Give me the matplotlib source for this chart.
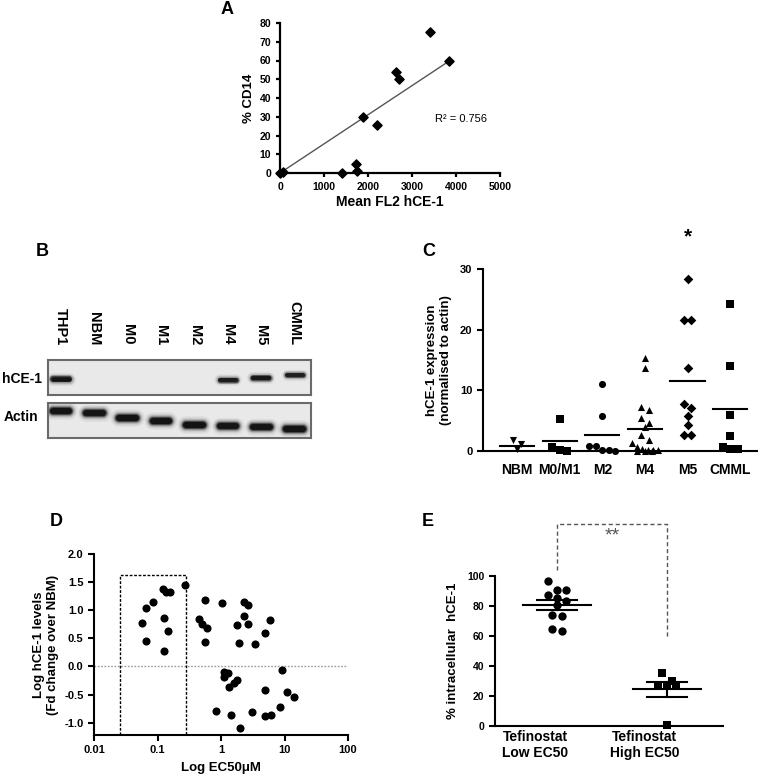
import numpy as np
import matplotlib
matplotlib.use("Agg")
import matplotlib.pyplot as plt
from matplotlib.patches import Rectangle
from matplotlib.transforms import ScaledTranslation

plt.rcParams['font.family'] = ['Liberation Sans', 'DejaVu Sans']
plt.rcParams['font.weight'] = 'bold'

# ---------------- data ----------------
# Panel A
a_fl2 = [10, 60, 1420, 1720, 1750, 1880, 2200, 2630, 2700, 3420, 3850]
a_cd14 = [0, 0.5, 0, 5, 1, 30, 25.5, 54, 50, 75, 60]
a_r2_text = "R\u00b2 = 0.756"

# Panel B (western blot): band intensity and migration depth within each strip
b_lanes = ['THP1', 'NBM', 'M0', 'M1', 'M2', 'M4', 'M5', 'CMML']
b_hce1_signal = [1.0, 0, 0, 0, 0, 0.75, 0.85, 0.7]
b_hce1_depth = [19, 19, 19, 19, 19, 20, 17.5, 15.5]
b_actin_signal = [1.0, 0.95, 1.0, 1.0, 1.0, 0.95, 0.95, 1.0]
b_actin_depth = [8, 10, 15, 18, 22, 23, 24, 26]

# Panel C
c_groups = ['NBM', 'M0/M1', 'M2', 'M4', 'M5', 'CMML']
c_nbm = [1.8, 1.15, 0.4]
c_m0m1 = [5.35, 0.7, 0.0, 0.2]
c_m2 = [11.1, 5.7, 0.8, 0.8, 0.2, 0.0, 0.2]
c_m4 = [15.4, 13.6, 7.3, 6.7, 5.5, 4.6, 4.0, 2.7, 1.8, 1.3, 0.7, 0.4,
        0.2, 0.2, 0.1, 0.0, 0.0, 0.0]
c_m5 = [28.3, 21.6, 21.6, 13.7, 7.8, 7.1, 5.7, 4.3, 2.7, 2.7]
c_cmml = [24.3, 14.0, 6.0, 2.4, 0.7, 0.3, 0.3]
c_means = [0.9, 1.65, 2.7, 3.6, 11.6, 7.0]
c_markers = ['v', 's', 'o', '^', 'D', 's']
c_star_group = 'M5'
c_star_y = 35.3

# Panel D
d_ec50 = [0.058, 0.067, 0.067, 0.086, 0.124, 0.138, 0.158, 0.126, 0.147, 0.126,
          0.271, 0.57, 1.05, 0.449, 0.505, 0.60, 0.57, 2.32, 2.71, 2.32,
          1.76, 2.63, 1.89, 3.44, 5.98, 4.94, 9.3, 1.10, 1.29, 1.10,
          1.78, 1.62, 1.32, 4.94, 11.1, 14.2, 0.836, 1.43, 3.05, 4.94,
          6.13, 8.36, 2.01]
d_loghce = [0.776, 0.45, 1.045, 1.146, 1.373, 1.33, 1.325, 0.854, 0.633, 0.28,
            1.445, 1.188, 1.128, 0.848, 0.746, 0.675, 0.436, 1.146, 1.10, 0.89,
            0.74, 0.746, 0.418, 0.406, 0.818, 0.59, -0.066, -0.10, -0.12, -0.18,
            -0.24, -0.30, -0.36, -0.42, -0.45, -0.537, -0.788, -0.86, -0.818, -0.878,
            -0.86, -0.716, -1.10]
d_box_ec50 = [0.0257, 0.282]
d_box_top = 1.625

# Panel E
e_groups = ['Tefinostat\nLow EC50', 'Tefinostat\nHigh EC50']
e_low = [96.7, 90.9, 90.9, 85.6, 87.1, 83.3, 80.4, 73.8, 73.1, 64.9, 63.1]
e_high = [30, 35.3, 27.1, 27.1, 27.1, 0.4]
e_bracket = [103.8, 135, 59.3]
e_sig = '**'
e_sig_y = 127

# ---------------- helpers ----------------
W, H = 758, 778
fig = plt.figure(figsize=(W / 100, H / 100), dpi=100)


def px_axes(l, t, r, b):
    return fig.add_axes([l / W, 1 - b / H, (r - l) / W, (b - t) / H])


def prism_style(ax, lw=1.5):
    for s in ['top', 'right']:
        ax.spines[s].set_visible(False)
    for s in ['left', 'bottom']:
        ax.spines[s].set_linewidth(lw)
    ax.tick_params(direction='out', width=lw, length=4)


def swarm_offsets(vals, px_per_y, px_per_x, d_px, max_w_px):
    """Row-binned symmetric spread of points (Prism-like scatter)."""
    vals = np.asarray(vals, float)
    order = np.argsort(-vals)
    offs = np.zeros(len(vals))
    groups = []
    cur = [order[0]]
    for idx in order[1:]:
        if (vals[cur[0]] - vals[idx]) * px_per_y < d_px:
            cur.append(idx)
        else:
            groups.append(cur)
            cur = [idx]
    groups.append(cur)
    for g in groups:
        n = len(g)
        if n == 1:
            continue
        step = min(d_px, max_w_px / (n - 1))
        for k, idx in enumerate(g):
            offs[idx] = (k - (n - 1) / 2) * step / px_per_x
    return offs


# ---------------- Panel A ----------------
axA = px_axes(280, 23, 500, 173)
prism_style(axA, 1.6)
axA.tick_params(length=3)
axA.scatter(a_fl2, a_cd14, marker='D', s=22, color='black', zorder=3, clip_on=False)
ax_x = np.asarray(a_fl2, float)
ax_y = np.asarray(a_cd14, float)
slope = np.sum(ax_x * ax_y) / np.sum(ax_x ** 2)
fit_x = np.array([0, ax_x.max() - 60])
axA.plot(fit_x, slope * fit_x, color='#555555', lw=1.0, zorder=2)
axA.set_xlim(0, 5000)
axA.set_ylim(0, 80)
axA.set_xticks(range(0, 5001, 1000))
axA.set_yticks(range(0, 81, 10))
for lab in axA.get_xticklabels() + axA.get_yticklabels():
    lab.set_fontsize(7.5)
    lab.set_fontweight('bold')
axA.set_xlabel('Mean FL2 hCE-1', fontsize=10, fontweight='bold', labelpad=2)
axA.set_ylabel('% CD14', fontsize=9.5, fontweight='bold', labelpad=3)
axA.text(3520, 29, a_r2_text, fontsize=8, fontweight='normal', va='center')
fig.text(227 / W, 1 - 10 / H, 'A', fontsize=13, fontweight='bold', ha='center', va='center')

# ---------------- Panel B ----------------
fig.text(42 / W, 1 - 251 / H, 'B', fontsize=13, fontweight='bold', ha='center', va='center')
xlim_b = (-0.39, 7.49)


def blot_axes(t, b, signal, depth, thick_px, half_w):
    ax = px_axes(48, t, 311, b)
    ax.set_xlim(*xlim_b)
    ax.set_ylim(35, 0)
    ax.set_facecolor('#e9e9e9')
    for s in ax.spines.values():
        s.set_color('#6a6a6a')
        s.set_linewidth(1.5)
    ax.set_xticks([])
    ax.set_yticks([])
    layers = [(2.2, 0.05), (1.8, 0.08), (1.5, 0.14), (1.25, 0.25), (1.0, 0.55), (0.75, 0.95)]
    for i, (sig, pos) in enumerate(zip(signal, depth)):
        if sig <= 0:
            continue
        th = thick_px * (0.55 + 0.45 * sig)
        for wf, al in layers:
            ax.plot([i - half_w, i + half_w], [pos, pos], color='#111111',
                    lw=th * wf * 0.72, alpha=min(1, al * (0.5 + 0.5 * sig)),
                    solid_capstyle='round')
    return ax


axB1 = blot_axes(360, 395, b_hce1_signal, b_hce1_depth, 6.0, 0.24)
axB2 = blot_axes(403, 438, b_actin_signal, b_actin_depth, 8.0, 0.25)
for i, lane in enumerate(b_lanes):
    axB1.text(i, -15, lane, rotation=270, ha='center', va='bottom',
              fontsize=10.5, fontweight='bold', clip_on=False)
fig.text(22 / W, 1 - 379 / H, 'hCE-1', fontsize=10, fontweight='bold', ha='center', va='center')
fig.text(21 / W, 1 - 417 / H, 'Actin', fontsize=10, fontweight='bold', ha='center', va='center')

# ---------------- Panel C ----------------
axC = px_axes(483, 269, 757, 451)
prism_style(axC)
c_data = [c_nbm, c_m0m1, c_m2, c_m4, c_m5, c_cmml]
px_y_c = 182 / 30
px_x_c = 42.6
for i, (vals, mk, mu) in enumerate(zip(c_data, c_markers, c_means)):
    offs = swarm_offsets(vals, px_y_c, px_x_c, 7.5, 26)
    axC.scatter(i + offs, vals, marker=mk, s=26 if mk != 'D' else 24,
                color='black', zorder=3, clip_on=False, linewidths=0)
    axC.plot([i - 0.4, i + 0.4], [mu, mu], color='black', lw=1.5, zorder=2)
axC.set_xlim(-0.8, 5.63)
axC.set_ylim(0, 30)
axC.set_yticks([0, 10, 20, 30])
axC.set_xticks(range(len(c_groups)))
axC.set_xticklabels(c_groups)
axC.tick_params(axis='x', length=0, pad=9)
for lab in axC.get_xticklabels():
    lab.set_fontsize(10)
    lab.set_fontweight('bold')
for lab in axC.get_yticklabels():
    lab.set_fontsize(8)
    lab.set_fontweight('bold')
axC.set_ylabel('hCE-1 expression\n(normalised to actin)', fontsize=9.5,
               fontweight='bold', labelpad=6)
axC.text(c_groups.index(c_star_group), c_star_y, '*', fontsize=15, ha='center',
         va='center', clip_on=False)
fig.text(429 / W, 1 - 252 / H, 'C', fontsize=13, fontweight='bold', ha='center', va='center')

# ---------------- Panel D ----------------
axD = px_axes(94, 554, 348, 735)
prism_style(axD)
axD.set_xscale('log')
axD.scatter(d_ec50, d_loghce, s=34, color='black', zorder=3, linewidths=0, clip_on=False)
axD.axhline(0, color='#999999', lw=1.0, ls=(0, (1.2, 1.2)), zorder=1)
axD.add_patch(Rectangle((d_box_ec50[0], -1.22), d_box_ec50[1] - d_box_ec50[0],
                        d_box_top + 1.22, fill=False, ec='black', lw=1.0,
                        ls=(0, (2, 1.2)), zorder=2))
axD.set_xlim(0.01, 100)
axD.set_ylim(-1.22, 2.0)
axD.set_xticks([0.01, 0.1, 1, 10, 100])
axD.set_xticklabels(['0.01', '0.1', '1', '10', '100'])
axD.minorticks_off()
axD.set_yticks([-1.0, -0.5, 0.0, 0.5, 1.0, 1.5, 2.0])
axD.set_yticklabels(['-1.0', '-0.5', '0.0', '0.5', '1.0', '1.5', '2.0'])
for lab in axD.get_xticklabels() + axD.get_yticklabels():
    lab.set_fontsize(8)
    lab.set_fontweight('bold')
axD.set_xlabel('Log EC50\u03bcM', fontsize=9.5, fontweight='bold', labelpad=5)
axD.set_ylabel('Log hCE-1 levels\n(Fd change over NBM)', fontsize=9.5,
               fontweight='bold', labelpad=4)
fig.text(56 / W, 1 - 521 / H, 'D', fontsize=13, fontweight='bold', ha='center', va='center')

# ---------------- Panel E ----------------
axE = px_axes(495, 576, 723, 726)
prism_style(axE)
px_y_e = 1.5
px_x_e = 110
e_data = [e_low, e_high]
e_mk = ['o', 's']
for i, (vals, mk) in enumerate(zip(e_data, e_mk)):
    v = np.asarray(vals, float)
    offs = swarm_offsets(v, px_y_e, px_x_e, 9.3, 30)
    axE.scatter(i + offs, v, marker=mk, s=36 if mk == 'o' else 30, color='black',
                zorder=3, linewidths=0, clip_on=False)
    mu = v.mean()
    sem = v.std(ddof=1) / np.sqrt(len(v))
    axE.plot([i - 0.31, i + 0.31], [mu, mu], color='black', lw=1.5, zorder=4)
    axE.plot([i, i], [mu - sem, mu + sem], color='black', lw=1.5, zorder=4)
    for yy in (mu - sem, mu + sem):
        axE.plot([i - 0.18, i + 0.18], [yy, yy], color='black', lw=1.5, zorder=4)
axE.plot([0, 0, 1, 1], [e_bracket[0], e_bracket[1], e_bracket[1], e_bracket[2]],
         color='#555555', lw=1.0, ls=(0, (3, 2)), clip_on=False)
axE.text(0.5, e_sig_y, e_sig, color='#555555', fontsize=14, fontweight='normal',
         ha='center', va='center', clip_on=False)
axE.set_xlim(-0.564, 1.51)
axE.set_ylim(0, 100)
axE.set_yticks(range(0, 101, 20))
axE.set_xticks([0, 1])
axE.set_xticklabels(e_groups)
axE.tick_params(axis='x', length=0, pad=3)
shift = ScaledTranslation(-0.22, 0, fig.dpi_scale_trans)
for lab in axE.get_xticklabels():
    lab.set_fontsize(10)
    lab.set_fontweight('bold')
    lab.set_transform(lab.get_transform() + shift)
for lab in axE.get_yticklabels():
    lab.set_fontsize(7.5)
    lab.set_fontweight('bold')
axE.set_ylabel('% intracellular  hCE-1', fontsize=9.5, fontweight='bold', labelpad=6)
fig.text(428 / W, 1 - 521 / H, 'E', fontsize=13, fontweight='bold', ha='center', va='center')

fig.savefig('out.png', dpi=100)
